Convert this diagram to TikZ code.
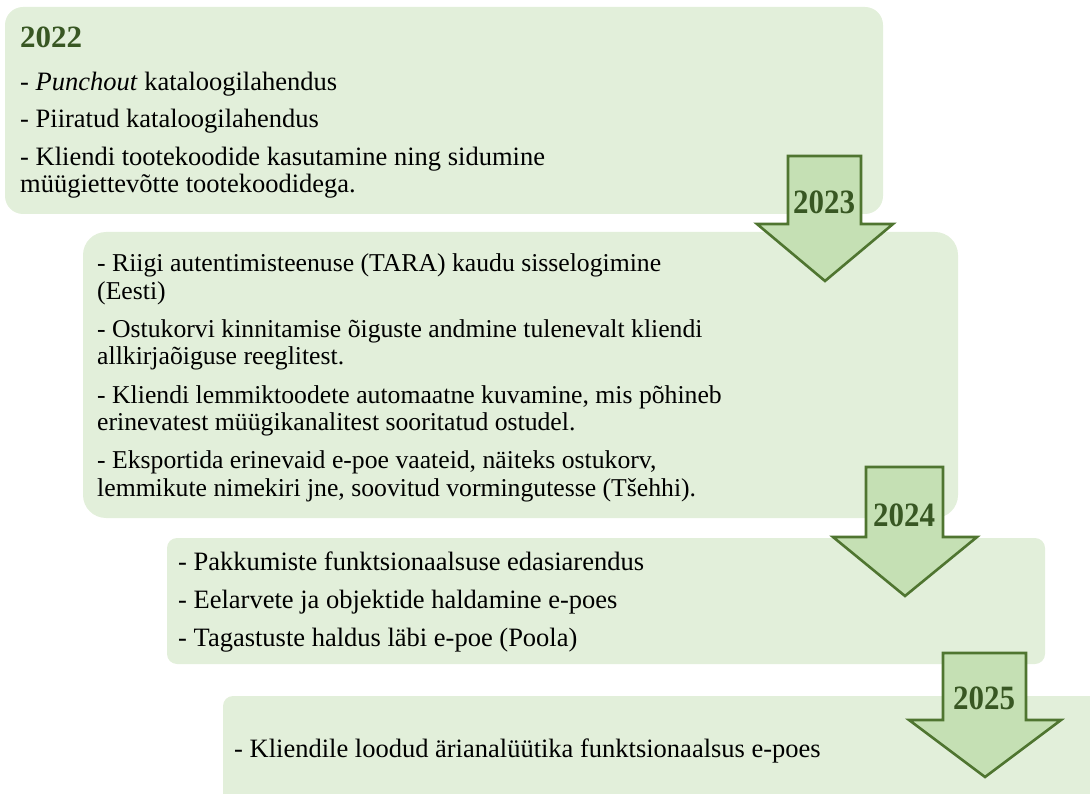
\documentclass[tikz,border=0pt]{standalone}
\usepackage{fontspec}
\setmainfont{Liberation Serif}
\definecolor{boxfill}{HTML}{E2EFDA}
\definecolor{arrowfill}{HTML}{C5E0B4}
\definecolor{arrowline}{HTML}{4F7530}
\definecolor{yeargreen}{HTML}{385723}
\newcommand{\tallyear}[1]{\scalebox{1}[1.1]{#1}}
\begin{document}
\begin{tikzpicture}[x=1pt,y=-1pt,
  panel/.style={fill=boxfill,draw=none},
  yeararrow/.style={fill=arrowfill,draw=arrowline,line width=2.6pt,line join=miter},
  item/.style={anchor=base west,inner sep=0pt,font=\fontsize{26.5}{28}\selectfont,text=black},
  smallitem/.style={item,font=\fontsize{25.7}{28}\selectfont},
  yearhead/.style={anchor=base west,inner sep=0pt,font=\fontsize{31}{34}\selectfont\bfseries,text=yeargreen},
  yearlabel/.style={inner sep=0pt,font=\fontsize{31}{34}\selectfont\bfseries,text=yeargreen}]
\useasboundingbox (0,0) rectangle (1090,794);
\clip (0,0) rectangle (1090,794);

% panels, one per year
\fill[panel,rounded corners=18pt] (5,7) rectangle (883,214);
\fill[panel,rounded corners=23pt] (83,232) rectangle (958,518);
\fill[panel,rounded corners=10pt] (167,538) rectangle (1045,664);
\fill[panel,rounded corners=10pt] (223,696) rectangle (1120,830);

% 2022
\node[yearhead] (y22) at (20,48) {2022};
\node[item] (a1) at (20,91) {- \textit{Punchout} kataloogilahendus};
\node[item] (a2) at (20,128) {- Piiratud kataloogilahendus};
\node[item] (a3) at (20,166) {- Kliendi tootekoodide kasutamine ning sidumine};
\node[item] (a3b) at (20,193) {müügiettevõtte tootekoodidega.};

% 2023
\node[smallitem] (b1) at (97,272) {- Riigi autentimisteenuse (TARA) kaudu sisselogimine};
\node[smallitem] (b1b) at (97,299.5) {(Eesti)};
\node[smallitem] (b2) at (97,337.5) {- Ostukorvi kinnitamise õiguste andmine tulenevalt kliendi};
\node[smallitem] (b2b) at (97,365) {allkirjaõiguse reeglitest.};
\node[smallitem] (b3) at (97,403) {- Kliendi lemmiktoodete automaatne kuvamine, mis põhineb};
\node[smallitem] (b3b) at (97,430.5) {erinevatest müügikanalitest sooritatud ostudel.};
\node[smallitem] (b4) at (97,468.5) {- Eksportida erinevaid e-poe vaateid, näiteks ostukorv,};
\node[smallitem] (b4b) at (97,496) {lemmikute nimekiri jne, soovitud vormingutesse (Tšehhi).};

% 2024
\node[item] (c1) at (178,570) {- Pakkumiste funktsionaalsuse edasiarendus};
\node[item] (c2) at (178,608) {- Eelarvete ja objektide haldamine e-poes};
\node[item] (c3) at (178,646) {- Tagastuste haldus läbi e-poe (Poola)};

% 2025
\node[item] (d1) at (234,757) {- Kliendile loodud ärianalüütika funktsionaalsus e-poes};

% down arrows between the panels
\draw[yeararrow] (788,156) -- (861,156) -- (861,224) -- (893,224) -- (825,281) -- (757,224) -- (788,224) -- cycle;
\node[yearlabel] (y23) at (824,202) {\tallyear{2023}};
\draw[yeararrow] (866,467) -- (943,467) -- (943,537) -- (977,537) -- (905,596) -- (833,537) -- (866,537) -- cycle;
\node[yearlabel] (y24) at (904,515) {\tallyear{2024}};
\draw[yeararrow] (943,653) -- (1026,653) -- (1026,720) -- (1061,720) -- (985,777) -- (909,720) -- (943,720) -- cycle;
\node[yearlabel] (y25) at (984,698) {\tallyear{2025}};
\end{tikzpicture}
\end{document}
